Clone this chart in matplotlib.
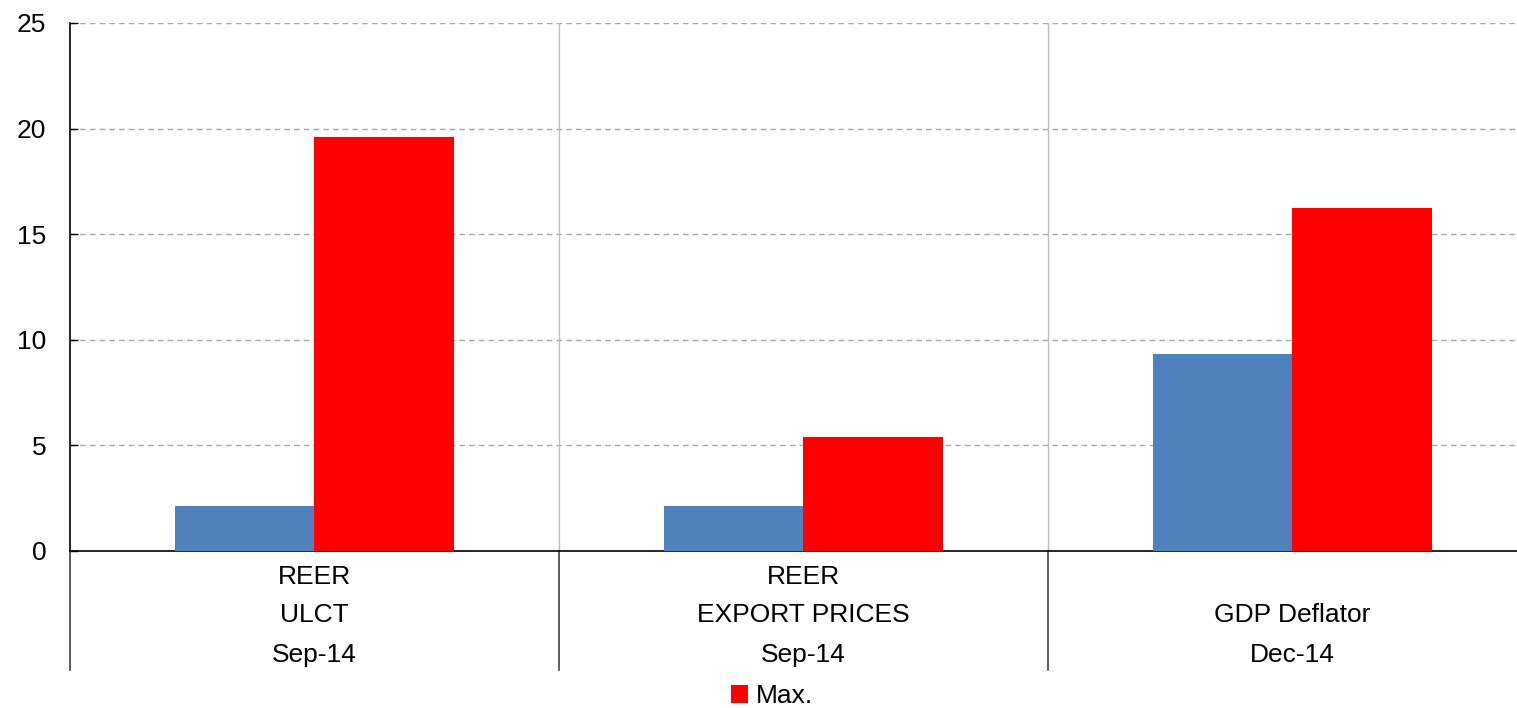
import numpy as np
import matplotlib.pyplot as plt
import matplotlib.transforms as mtransforms

plt.rcParams['font.family'] = ['Liberation Sans', 'DejaVu Sans']

# data
line1 = ["REER", "REER", ""]
line2 = ["ULCT", "EXPORT PRICES", "GDP Deflator"]
line3 = ["Sep-14", "Sep-14", "Dec-14"]
min_vals = [2.13, 2.13, 9.33]
max_vals = [19.6, 5.4, 16.25]
yticks = [0, 5, 10, 15, 20, 25]

fig = plt.figure(figsize=(15.17, 7.08), dpi=100)
ax = fig.add_axes([70 / 1517, (708 - 551) / 708, 1467 / 1517, 528 / 708])

x = np.arange(len(line2))
w = 0.285
ax.bar(x - w / 2, min_vals, w, color='#4F81BD', zorder=3)
ax.bar(x + w / 2, max_vals, w, color='#FF0000', label='Max.', zorder=3)

ax.set_xlim(-0.5, len(line2) - 0.5)
ax.set_ylim(0, 25)
ax.set_yticks(yticks)
ax.set_xticks([])
ax.tick_params(axis='y', direction='in', length=6, width=1, color='black',
               pad=17, labelsize=19)

# grid
for v in yticks[1:]:
    ax.axhline(v, color='#A6A6A6', lw=1, ls=(0, (4, 3)), zorder=1)
for b in np.arange(0.5, len(line2) - 0.5):
    ax.axvline(b, color='#BFBFBF', lw=1, zorder=1)

for s in ['top', 'right']:
    ax.spines[s].set_visible(False)
ax.spines['left'].set_color('black')
ax.spines['bottom'].set_color('black')
ax.spines['left'].set_linewidth(1.2)
ax.spines['bottom'].set_linewidth(1.2)

# category labels under the axis
trans = mtransforms.blended_transform_factory(ax.transData, ax.transAxes)
for i in range(len(line2)):
    ax.text(x[i], -0.049, line1[i], transform=trans, ha='center', va='center', fontsize=19)
    ax.text(x[i], -0.121, line2[i], transform=trans, ha='center', va='center', fontsize=19)
    ax.text(x[i], -0.197, line3[i], transform=trans, ha='center', va='center', fontsize=19)
for b in np.arange(-0.5, len(line2) - 0.5):
    ax.plot([b, b], [0, -0.225], transform=trans, color='#404040', lw=1.2, clip_on=False)

fig.legend(loc='center', bbox_to_anchor=(772 / 1517, 1 - 696 / 708), frameon=False,
           fontsize=19, handlelength=0.65, handleheight=0.65, handletextpad=0.3,
           borderpad=0)

fig.savefig('out.png', dpi=100)
